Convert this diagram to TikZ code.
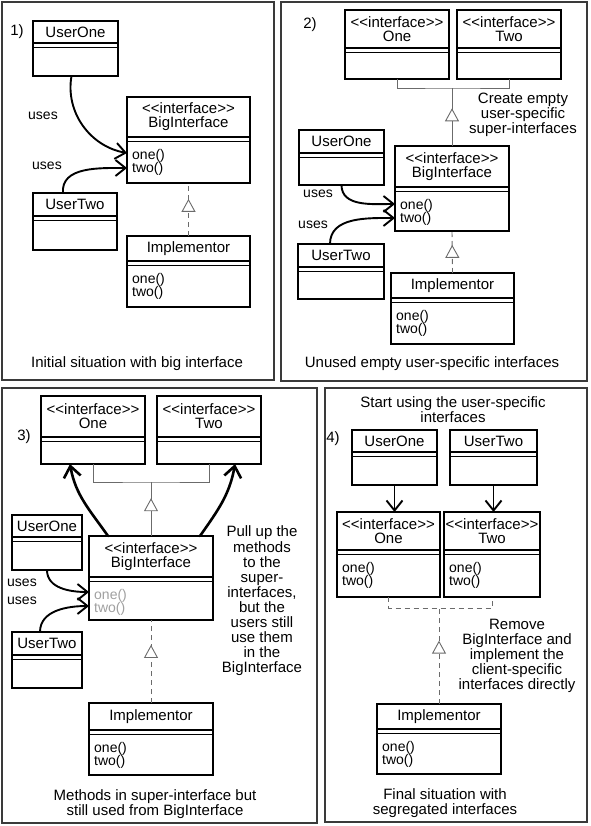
\documentclass[tikz,border=0pt]{standalone}
\usepackage{fontspec}
\setmainfont{Liberation Sans}
\usepackage{xcolor}
\definecolor{panelLine}{HTML}{3A3A3A}
\definecolor{linkGray}{HTML}{6B6B6B}
\definecolor{fadedText}{HTML}{A0A0A0}
\usetikzlibrary{arrows.meta,positioning,calc,decorations.markings}
\tikzset{
    panel/.style={
        draw=panelLine,
        line width=1.4pt
    },
    classbox/.style={
        draw=black,
        fill=white,
        rectangle,
        line width=1.9pt,
        inner sep=0pt,
        outer sep=0pt
    },
    sepline/.style={
        line width=1.5pt
    },
    classname/.style={
        font=\fontsize{15}{14}\selectfont,
        align=center,
        inner sep=0pt
    },
    methods/.style={
        font=\fontsize{14}{13.5}\selectfont,
        align=left,
        inner sep=0pt,
        anchor=north west
    },
    note/.style={
        font=\fontsize{15}{15.1}\selectfont,
        align=center,
        inner sep=0pt
    },
    useslabel/.style={
        font=\fontsize{14}{14}\selectfont,
        inner sep=0pt
    },
    uses/.style={
        -{Straight Barb[length=10pt,width=16pt]},
        line width=1.9pt,
        line cap=round
    },
    pullup/.style={
        -{Straight Barb[length=11pt,width=17pt]},
        line width=2.6pt,
        line cap=round
    },
    generalize/.style={
        draw=linkGray,
        line width=0.9pt
    },
    realize/.style={
        draw=linkGray,
        line width=0.9pt,
        dash pattern=on 5pt off 4pt
    },
    hollowtri/.style={
        postaction={decorate},
        decoration={markings,
            mark=at position #1 with {\arrow{Triangle[length=13pt,width=14pt,fill=white,line width=0.9pt]}}}
    }
}
\newcommand{\stereo}{<\kern0pt<interface>\kern0pt>}
% name, x, y, width, height, title height, title, methods
\newcommand{\umlclass}[8]{%
    \node[classbox, minimum width=#4pt, minimum height=#5pt, anchor=north west] (#1) at (#2,#3) {};
    \draw[sepline] ([yshift=-#6pt]#1.north west) -- ([yshift=-#6pt]#1.north east);
    \draw[sepline] ([yshift=-#6pt-4.5pt]#1.north west) -- ([yshift=-#6pt-4.5pt]#1.north east);
    \node[classname] (#1-t) at ([yshift=-#6pt/2]#1.north) {#7};
    \node[methods] (#1-m) at ([xshift=5pt,yshift=-#6pt-12pt]#1.north west) {#8};
}

\begin{document}
\begin{tikzpicture}[x=1pt, y=-1pt]
    \useasboundingbox (0,0) rectangle (590,826);
    % Panels
    \draw[panel] (2,2) rectangle (274,380);
    \draw[panel] (281,2) rectangle (587,381);
    \draw[panel] (2,388) rectangle (317,823);
    \draw[panel] (325,388) rectangle (587,822);

    % 1) Initial situation
    \node[note] (num1) at (17,32) {1)};
    \umlclass{p1UserOne}{33}{21}{85}{55}{22}{UserOne}{}
    \umlclass{p1Big}{127}{97}{123}{86}{40}{\stereo\\BigInterface}{one()\\two()}
    \umlclass{p1UserTwo}{33}{193}{84}{57}{23}{UserTwo}{}
    \umlclass{p1Impl}{127}{236}{123}{71}{25}{Implementor}{one()\\two()}
    \draw[uses] ([xshift=-4pt]p1UserOne.south) to[out=-100,in=170] ([yshift=-13pt]p1Big.west);
    \draw[uses] ([xshift=-12pt]p1UserTwo.north) to[out=95,in=180] ([yshift=-28pt]p1Big.west);
    \node[useslabel] (uses1a) at (43,116) {uses};
    \node[useslabel] (uses1b) at (47,166) {uses};
    \draw[realize, hollowtri=0.7] (p1Impl.north) -- (p1Big.south);
    \node[note] (cap1) at (137,364) {Initial situation with big interface};

    % 2) Empty super-interfaces
    \node[note] (num2) at (310,25) {2)};
    \umlclass{p2One}{345}{10}{104}{69}{38}{\stereo\\One}{}
    \umlclass{p2Two}{457}{10}{104}{69}{38}{\stereo\\Two}{}
    \umlclass{p2UserOne}{299}{130}{85}{55}{23}{UserOne}{}
    \umlclass{p2Big}{395}{146}{114}{85}{41}{\stereo\\BigInterface}{one()\\two()}
    \umlclass{p2UserTwo}{298}{244}{86}{55}{23}{UserTwo}{}
    \umlclass{p2Impl}{391}{273}{123}{71}{25}{Implementor}{one()\\two()}
    \coordinate (j2) at (452,88);
    \draw[generalize] (p2One.south) |- (j2) -| (p2Two.south);
    \draw[generalize, hollowtri=0.65] (p2Big.north) -- (j2);
    \draw[uses] (p2UserOne.south) to[out=-90,in=180] ([yshift=-15.5pt]p2Big.west);
    \draw[uses] ([xshift=-11pt]p2UserTwo.north) to[out=90,in=180] ([yshift=-29.5pt]p2Big.west);
    \node[useslabel] (uses2a) at (318,194) {uses};
    \node[useslabel] (uses2b) at (313,225) {uses};
    \draw[realize, hollowtri=0.67] (p2Impl.north) -- (p2Big.south);
    \node[note] (note2) at (523,115) {Create empty\\user-specific\\super-interfaces};
    \node[note] (cap2) at (432,364) {Unused empty user-specific interfaces};

    % 3) Methods pulled up
    \node[note] (num3) at (24,437) {3)};
    \umlclass{p3One}{41}{396}{104}{68}{41}{\stereo\\One}{}
    \umlclass{p3Two}{157}{396}{104}{68}{41}{\stereo\\Two}{}
    \umlclass{p3UserOne}{12}{515}{70}{55}{22}{UserOne}{}
    \umlclass{p3Big}{89}{536}{124}{84}{41}{\stereo\\BigInterface}{\textcolor{fadedText}{one()}\\\textcolor{fadedText}{two()}}
    \umlclass{p3UserTwo}{12}{632}{70}{56}{23}{UserTwo}{}
    \umlclass{p3Impl}{89}{703}{124}{72}{27}{Implementor}{one()\\two()}
    \coordinate (j3) at (151,482);
    \draw[generalize] (p3One.south) |- (j3) -| (p3Two.south);
    \draw[generalize, hollowtri=0.7] (p3Big.north) -- (j3);
    \draw[pullup] ([xshift=-43pt]p3Big.north) to[out=125,in=-80] ([xshift=-23pt]p3One.south);
    \draw[pullup] ([xshift=49pt]p3Big.north) to[out=55,in=-100] ([xshift=26pt]p3Two.south);
    \draw[uses] (p3UserOne.south) to[out=-90,in=180] ([yshift=-14pt]p3Big.west);
    \draw[uses] ([xshift=-7pt]p3UserTwo.north) to[out=90,in=180] ([yshift=-28pt]p3Big.west);
    \node[useslabel] (uses3a) at (22,583) {uses};
    \node[useslabel] (uses3b) at (22,601) {uses};
    \draw[realize, hollowtri=0.7] (p3Impl.north) -- (p3Big.south);
    \node[note] (note3) at (262,601) {Pull up the\\methods\\to the\\super-\\interfaces,\\but the\\users still\\use them\\in the\\BigInterface};
    \node[note] (cap3) at (155,804) {Methods in super-interface but\\still used from BigInterface};

    % 4) Segregated interfaces
    \node[note] (head4) at (453,410) {Start using the user-specific\\interfaces};
    \node[note] (num4) at (333,439) {4)};
    \umlclass{p4UserOne}{352}{430}{85}{55}{22}{UserOne}{}
    \umlclass{p4UserTwo}{450}{430}{87}{55}{22}{UserTwo}{}
    \umlclass{p4One}{337}{512}{103}{85}{38}{\stereo\\One}{one()\\two()}
    \umlclass{p4Two}{444}{512}{96}{85}{38}{\stereo\\Two}{one()\\two()}
    \umlclass{p4Impl}{377}{704}{124}{70}{25}{Implementor}{one()\\two()}
    \draw[uses] (p4UserOne.south) -- (p4UserOne.south |- p4One.north);
    \draw[uses] (p4UserTwo.south) -- (p4UserTwo.south |- p4Two.north);
    \coordinate (j4) at (439,608);
    \draw[realize] (p4One.south) |- (j4) -| (p4Two.south);
    \draw[realize, hollowtri=0.66] (p4Impl.north) -- (j4);
    \node[note] (note4) at (517,656) {Remove\\BigInterface and\\implement the\\client-specific\\interfaces directly};
    \node[note] (cap4) at (445,803) {Final situation with\\segregated interfaces};
\end{tikzpicture}
\end{document}
